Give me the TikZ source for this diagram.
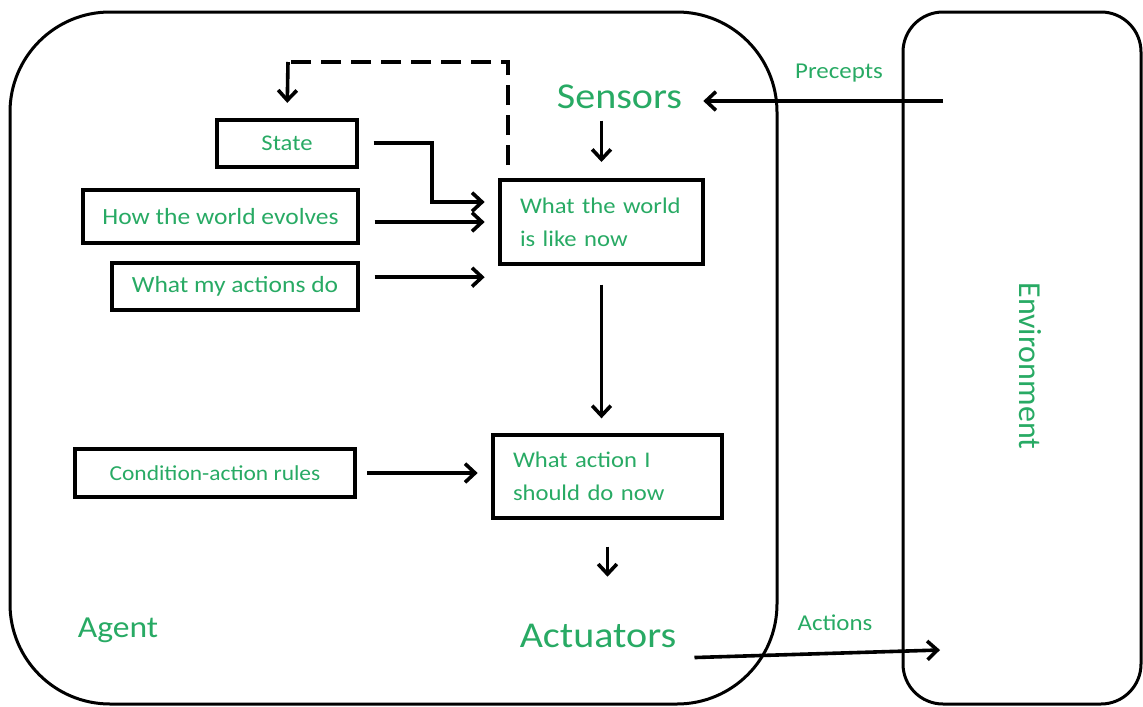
\documentclass[tikz,border=0pt]{standalone}
\usepackage{fontspec}
\setmainfont{Carlito}[FakeStretch=1.1]
\newfontfamily\envfont{Carlito}
\usetikzlibrary{arrows.meta, positioning}
\definecolor{agentgreen}{RGB}{40, 170, 100}

\begin{document}
\begin{tikzpicture}[x=0.75pt, y=-0.75pt,
    box/.style={draw, line width=3pt, inner sep=0pt, text=agentgreen, font=\fontsize{16.8}{20}\selectfont},
    wrapbox/.style={box, align=left, inner xsep=15pt, text width=#1, font=\fontsize{16.8}{24.75}\selectfont},
    arr/.style={line width=2.7pt, -{Straight Barb[length=7.5pt, width=14pt]}},
    lbl/.style={text=agentgreen, inner sep=0pt}]
    \useasboundingbox (0,0) rectangle (1143,707);
    \draw[line width=2.25pt, rounded corners=75pt] (10,12) rectangle (777,704);
    \draw[line width=2.25pt, rounded corners=30pt] (903,12) rectangle (1141,704);

    \node[box, minimum width=105pt, minimum height=35.25pt] (state) at (287,143) {State};
    \node[box, minimum width=206.25pt, minimum height=39.75pt, font=\fontsize{17.4}{21}\selectfont] (evolves) at (220.5,216.5) {How the world evolves};
    \node[box, minimum width=184.5pt, minimum height=35.25pt, font=\fontsize{17.4}{21}\selectfont] (doing) at (235,286.5) {What my actions do};
    \node[box, minimum width=210pt, minimum height=36pt, font=\fontsize{16}{20}\selectfont] (rules) at (215,473) {Condition-action rules};
    \node[wrapbox=122.25pt, minimum height=63pt] (world) at (601.5,222) {What the world\\is like now};
    \node[wrapbox=141.75pt, minimum height=62.25pt] (action) at (607.5,476.5) {What action I\\should do now};

    \node[lbl, anchor=base, inner xsep=15.75pt, font=\fontsize{27.3}{30}\selectfont] (sensors) at (619.5,108) {Sensors};
    \node[lbl, anchor=base, font=\fontsize{27.3}{30}\selectfont] (actuators) at (598,647) {Actuators};
    \node[lbl, anchor=base, font=\fontsize{22.9}{26}\selectfont] (agent) at (118,637) {Agent};
    \node[lbl, anchor=base, font=\fontsize{17}{20}\selectfont] (precepts) at (839,78) {Precepts};
    \node[lbl, anchor=base, font=\fontsize{17}{20}\selectfont] (actions) at (835,630) {Actions};
    \node[lbl, rotate=-90, font=\envfont\fontsize{24}{28}\selectfont] (env) at (1030,366) {Environment};

    \coordinate (precin) at (943,101);
    \coordinate (actin) at (940,650);
    \coordinate (fb) at (288,62);
    \coordinate (sbend) at (432,202);

    \draw[arr] (precin) -- (precin -| sensors.east);
    \draw[arr, shorten <=9pt, shorten >=12pt] (sensors.south -| world.north) -- (world.north);
    \draw[arr, shorten <=11pt, shorten >=10pt] (state.east) -| (sbend) -- (sbend -| world.west);
    \draw[arr, shorten <=11pt, shorten >=10pt] (evolves.east |- world.west) -- (world.west);
    \draw[arr, shorten <=11pt, shorten >=10pt] ([yshift=7pt]doing.east) -- ([yshift=7pt]doing.east -| world.west);
    \draw[line width=2.7pt, dash pattern=on 15pt off 7.5pt, shorten <=9.75pt] ([xshift=7.5pt]world.north west) |- (fb);
    \draw[arr, shorten >=11pt] (fb) -- (state.north);
    \draw[arr, shorten <=14pt, shorten >=11pt] (world.south) -- (world.south |- action.north);
    \draw[arr, shorten <=7.5pt, shorten >=10pt] (rules.east) -- (rules.east -| action.west);
    \draw[arr, shorten <=20pt, shorten >=35pt] (action.south) -- (action.south |- actuators.north);
    \draw[arr] ([shift={(13.5pt,-7.5pt)}]actuators.south east) -- (actin);
\end{tikzpicture}
\end{document}
